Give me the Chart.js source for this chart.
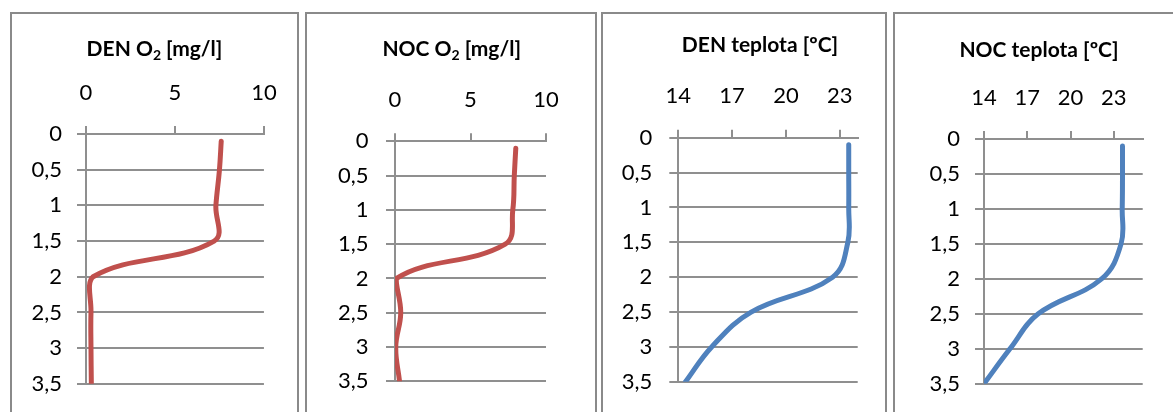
<!DOCTYPE html>
<html>
<head>
<meta charset="utf-8">
<script src="https://cdn.jsdelivr.net/npm/chart.js@4/dist/chart.umd.min.js"></script>
<style>
html, body { margin: 0; padding: 0; background: #fff; width: 1173px; height: 412px; overflow: hidden; }
.panel { position: absolute; box-sizing: border-box; border: 2px solid #8a8a8a; border-bottom: none; background: #fff; }
canvas { position: absolute; }
</style>
</head>
<body>
<div class="panel" style="left:10px; top:12px; width:289px; height:420px;"></div>
<div class="panel" style="left:305px; top:12px; width:292px; height:420px;"></div>
<div class="panel" style="left:601px; top:12px; width:286px; height:420px;"></div>
<div class="panel" style="left:893px; top:12px; width:282px; height:420px;"></div>
<canvas id="c1"></canvas>
<canvas id="c2"></canvas>
<canvas id="c3"></canvas>
<canvas id="c4"></canvas>
<script>
// ---- data ----
const depths = [0.1, 0.5, 1, 1.5, 2, 2.5, 3, 3.5];
const denO2 = [7.6, 7.5, 7.3, 7.2, 0.4, 0.28, 0.28, 0.3];
const nocO2 = [8.0, 7.9, 7.8, 7.3, 0.1, 0.38, 0.05, 0.3];
const denTeplota = [23.5, 23.5, 23.5, 23.45, 22.6, 18.06, 15.86, 14.4];
const nocTeplota = [23.6, 23.6, 23.58, 23.5, 22.15, 17.76, 15.8, 14.0];
const depthTicks = [0, 0.5, 1, 1.5, 2, 2.5, 3, 3.5];
const depthTickLabels = ['0', '0,5', '1', '1,5', '2', '2,5', '3', '3,5'];
const o2Ticks = [0, 5, 10];
const o2TickLabels = ['0', '5', '10'];
const tempTicks = [14, 17, 20, 23];
const tempTickLabels = ['14', '17', '20', '23'];
const titles = ['DEN O\u2082 [mg/l]', 'NOC O\u2082 [mg/l]', 'DEN teplota [\u00BAC]', 'NOC teplota [\u00BAC]'];

// ---- layout / style (page coordinates) ----
const FONT = 'Lato, "Open Sans", "Noto Sans", sans-serif';
const GRID = '#8f8f8f';
const LW = 2;
const RED = '#C0504D', BLUE = '#4F81BD';
const TITLE_SIZE = 21, SUB_SIZE = 14, TICK_SIZE = 22;

const panels = [
  { id: 'c1', ox: 12,  W: 285, values: denO2,      color: RED,  xMin: 0,  xMax: 10, xTicks: o2Ticks,   xLabels: o2TickLabels,
    L: 86,    R: 265,    T: 134,   B: 392,   tcx: 154.5, tby: 55.5, yGap: 24 },
  { id: 'c2', ox: 307, W: 288, values: nocO2,      color: RED,  xMin: 0,  xMax: 10, xTicks: o2Ticks,   xLabels: o2TickLabels,
    L: 395,   R: 546,    T: 141.3, B: 390.5, tcx: 451.7, tby: 55.5, yGap: 26.5 },
  { id: 'c3', ox: 603, W: 282, values: denTeplota, color: BLUE, xMin: 14, xMax: 24, xTicks: tempTicks, xLabels: tempTickLabels,
    L: 678.3, R: 857.7,  T: 137.7, B: 392.7, tcx: 760,   tby: 51.5, yGap: 26 },
  { id: 'c4', ox: 895, W: 278, values: nocTeplota, color: BLUE, xMin: 14, xMax: 25, xTicks: tempTicks, xLabels: tempTickLabels,
    L: 984,   R: 1142.7, T: 139,   B: 390.3, tcx: 1039,  tby: 56.5, yGap: 24 }
];

const OY = 14, H = 398;
const X_TICK_LEN = 8, Y_TICK_LEN = 9, X_LABEL_OFFSET = 41.5;

// Draws the panel title; the "₂" is rendered as a real subscript "2".
const panelTitle = {
  id: 'panelTitle',
  afterDraw(chart, args, opts) {
    const ctx = chart.ctx;
    const mainFont = 'bold ' + TITLE_SIZE + 'px ' + FONT;
    const subFont = 'bold ' + SUB_SIZE + 'px ' + FONT;
    const parts = [];
    opts.text.split('\u2082').forEach((s, i) => {
      if (i > 0) parts.push({ t: '2', sub: true });
      if (s) parts.push({ t: s, sub: false });
    });
    ctx.save();
    ctx.fillStyle = '#000';
    ctx.textAlign = 'left';
    ctx.textBaseline = 'alphabetic';
    let total = 0;
    parts.forEach(pt => { ctx.font = pt.sub ? subFont : mainFont; pt.w = ctx.measureText(pt.t).width; total += pt.w; });
    let x = opts.x - total / 2;
    parts.forEach(pt => {
      ctx.font = pt.sub ? subFont : mainFont;
      ctx.fillText(pt.t, x, opts.y + (pt.sub ? 4 : 0));
      x += pt.w;
    });
    ctx.restore();
  }
};

panels.forEach((p, idx) => {
  const cv = document.getElementById(p.id);
  cv.width = p.W; cv.height = H;
  cv.style.left = p.ox + 'px'; cv.style.top = OY + 'px';
  cv.style.width = p.W + 'px'; cv.style.height = H + 'px';

  const cl = p.L - p.ox, cr = p.R - p.ox, ct = p.T - OY, cb = p.B - OY;
  const padR = p.W - cr, padB = H - cb;
  const xPad = X_LABEL_OFFSET - X_TICK_LEN - TICK_SIZE * 1.2 / 2;
  const yPad = p.yGap - Y_TICK_LEN;

  new Chart(cv, {
    type: 'scatter',
    plugins: [panelTitle],
    data: {
      datasets: [{
        data: p.values.map((v, i) => ({ x: v, y: depths[i] })),
        showLine: true,
        borderColor: p.color,
        backgroundColor: p.color,
        borderWidth: 5,
        borderCapStyle: 'round',
        borderJoinStyle: 'round',
        pointRadius: 0,
        tension: 0.4,
        fill: false
      }]
    },
    options: {
      responsive: false,
      animation: false,
      events: [],
      layout: { padding: { left: 0, right: padR, top: 0, bottom: padB } },
      plugins: {
        legend: { display: false },
        tooltip: { enabled: false },
        title: { display: false },
        panelTitle: { text: titles[idx], x: p.tcx - p.ox, y: p.tby - OY }
      },
      scales: {
        x: {
          type: 'linear',
          position: 'top',
          min: p.xMin,
          max: p.xMax,
          afterBuildTicks: s => { s.ticks = p.xTicks.map(v => ({ value: v })); },
          afterFit: s => { s.height = ct; },
          grid: { drawOnChartArea: false, drawTicks: true, tickLength: X_TICK_LEN, color: GRID, lineWidth: LW },
          border: { display: true, color: GRID, width: LW },
          ticks: {
            color: '#000',
            font: { family: FONT, size: TICK_SIZE, lineHeight: 1.2 },
            padding: xPad,
            maxRotation: 0,
            autoSkip: false,
            callback: v => p.xLabels[p.xTicks.indexOf(v)]
          }
        },
        y: {
          type: 'linear',
          reverse: true,
          min: 0,
          max: 3.5,
          afterBuildTicks: s => { s.ticks = depthTicks.map(v => ({ value: v })); },
          afterFit: s => { s.width = cl; },
          grid: { drawOnChartArea: true, drawTicks: true, tickLength: Y_TICK_LEN, color: GRID, lineWidth: LW },
          border: { display: true, color: GRID, width: LW },
          ticks: {
            color: '#000',
            font: { family: FONT, size: TICK_SIZE, lineHeight: 1.2 },
            padding: yPad,
            autoSkip: false,
            callback: v => depthTickLabels[depthTicks.indexOf(v)]
          }
        }
      }
    }
  });
});
</script>
</body>
</html>
